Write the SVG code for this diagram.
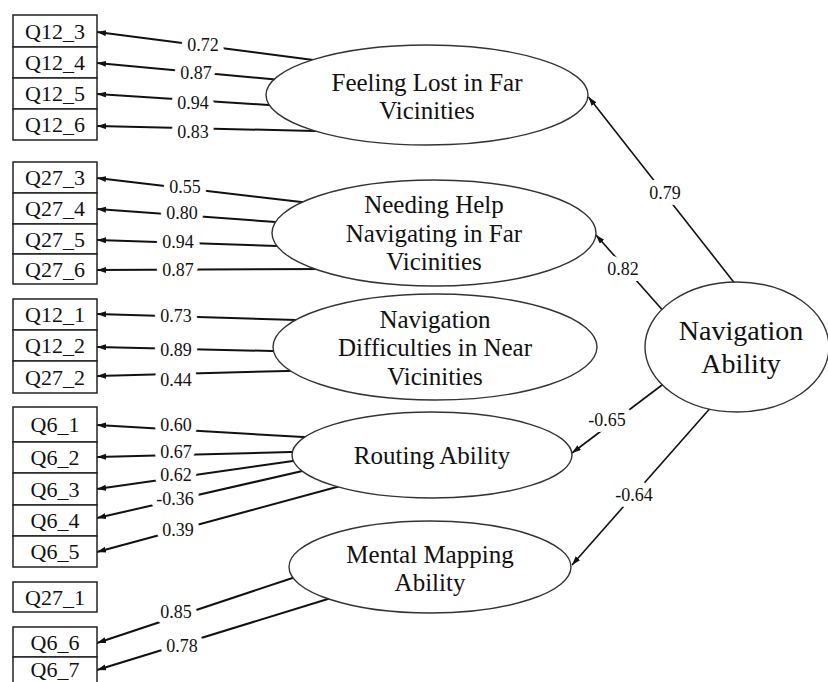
<svg xmlns="http://www.w3.org/2000/svg" width="828" height="682" viewBox="0 0 828 682">
<defs>
<marker id="ah" markerUnits="userSpaceOnUse" markerWidth="10" markerHeight="8" refX="9" refY="3" orient="auto">
<path d="M0,0 L9,3 L0,6 z" fill="#111"/>
</marker>
<style>
.box{fill:#fff;stroke:#222;stroke-width:1.5}
.bt{font-family:"Liberation Serif","Times New Roman",serif;font-size:22px;fill:#111;text-anchor:middle}
.ell{fill:#fff;stroke:#333;stroke-width:1.4}
.et{font-family:"Liberation Serif","Times New Roman",serif;font-size:25px;fill:#111;text-anchor:middle}
.nt{font-family:"Liberation Serif","Times New Roman",serif;font-size:28px;fill:#111;text-anchor:middle}
.ind{stroke:#111;stroke-width:2;fill:none;marker-end:url(#ah)}
.str{stroke:#111;stroke-width:1.6;fill:none;marker-end:url(#ah)}
.lbl{font-family:"Liberation Serif","Times New Roman",serif;font-size:18px;fill:#111;text-anchor:middle;stroke:#fff;stroke-width:12;stroke-linejoin:round;paint-order:stroke}
</style>
</defs>
<rect width="828" height="682" fill="#fff"/>

<g id="connectors">
<line class="ind" x1="321" y1="61" x2="97" y2="32"/>
<line class="ind" x1="281" y1="80" x2="97" y2="63"/>
<line class="ind" x1="276" y1="105.5" x2="97" y2="94"/>
<line class="ind" x1="325" y1="131.2" x2="97" y2="126"/>
<line class="ind" x1="310" y1="203" x2="97" y2="178"/>
<line class="ind" x1="283" y1="222.5" x2="97" y2="209"/>
<line class="ind" x1="285" y1="246.3" x2="97" y2="240"/>
<line class="ind" x1="328" y1="269" x2="97" y2="270"/>
<line class="ind" x1="305" y1="320.2" x2="97" y2="314"/>
<line class="ind" x1="281" y1="351.2" x2="97" y2="347"/>
<line class="ind" x1="298" y1="370.7" x2="97" y2="376"/>
<line class="ind" x1="312" y1="437.5" x2="97" y2="425"/>
<line class="ind" x1="300" y1="451.8" x2="97" y2="457"/>
<line class="ind" x1="300" y1="460" x2="97" y2="489"/>
<line class="ind" x1="310" y1="469.3" x2="97" y2="518"/>
<line class="ind" x1="345" y1="484.8" x2="97" y2="552"/>
<line class="ind" x1="300" y1="575.5" x2="97" y2="643"/>
<line class="ind" x1="336" y1="596.5" x2="97" y2="670"/>
<line class="str" x1="736" y1="285" x2="588.5" y2="97"/>
<line class="str" x1="666" y1="314" x2="596" y2="235"/>
<line class="str" x1="666" y1="382" x2="572" y2="453"/>
<line class="str" x1="713" y1="405" x2="572" y2="565"/>
<text class="lbl" x="203" y="51">0.72</text>
<text class="lbl" x="196" y="79">0.87</text>
<text class="lbl" x="193" y="109">0.94</text>
<text class="lbl" x="193" y="138">0.83</text>
<text class="lbl" x="185" y="193">0.55</text>
<text class="lbl" x="182" y="219">0.80</text>
<text class="lbl" x="178" y="248">0.94</text>
<text class="lbl" x="178" y="276">0.87</text>
<text class="lbl" x="176" y="322">0.73</text>
<text class="lbl" x="176" y="356">0.89</text>
<text class="lbl" x="176" y="386">0.44</text>
<text class="lbl" x="176" y="431">0.60</text>
<text class="lbl" x="176" y="458">0.67</text>
<text class="lbl" x="176" y="481">0.62</text>
<text class="lbl" x="175" y="505">-0.36</text>
<text class="lbl" x="178" y="536">0.39</text>
<text class="lbl" x="176" y="618">0.85</text>
<text class="lbl" x="182" y="652">0.78</text>
<text class="lbl" x="665" y="199">0.79</text>
<text class="lbl" x="623" y="275">0.82</text>
<text class="lbl" x="607" y="426">-0.65</text>
<text class="lbl" x="634" y="501">-0.64</text>
</g>

<g id="Q12_3"><rect class="box" x="13" y="15" width="84" height="32"/><text class="bt" x="55" y="38.5">Q12_3</text></g>
<g id="Q12_4"><rect class="box" x="13" y="47" width="84" height="31"/><text class="bt" x="55" y="70">Q12_4</text></g>
<g id="Q12_5"><rect class="box" x="13" y="78" width="84" height="31"/><text class="bt" x="55" y="101">Q12_5</text></g>
<g id="Q12_6"><rect class="box" x="13" y="109" width="84" height="31"/><text class="bt" x="55" y="132">Q12_6</text></g>
<g id="Q27_3"><rect class="box" x="13" y="162" width="84" height="31"/><text class="bt" x="55" y="185">Q27_3</text></g>
<g id="Q27_4"><rect class="box" x="13" y="193" width="84" height="31"/><text class="bt" x="55" y="216">Q27_4</text></g>
<g id="Q27_5"><rect class="box" x="13" y="224" width="84" height="30"/><text class="bt" x="55" y="246.5">Q27_5</text></g>
<g id="Q27_6"><rect class="box" x="13" y="254" width="84" height="30"/><text class="bt" x="55" y="276.5">Q27_6</text></g>
<g id="Q12_1"><rect class="box" x="13" y="299" width="84" height="31"/><text class="bt" x="55" y="322">Q12_1</text></g>
<g id="Q12_2"><rect class="box" x="13" y="330" width="84" height="31"/><text class="bt" x="55" y="353">Q12_2</text></g>
<g id="Q27_2"><rect class="box" x="13" y="361" width="84" height="32"/><text class="bt" x="55" y="384.5">Q27_2</text></g>
<g id="Q6_1"><rect class="box" x="13" y="407" width="84" height="35"/><text class="bt" x="55" y="432">Q6_1</text></g>
<g id="Q6_2"><rect class="box" x="13" y="442" width="84" height="31"/><text class="bt" x="55" y="465">Q6_2</text></g>
<g id="Q6_3"><rect class="box" x="13" y="473" width="84" height="32"/><text class="bt" x="55" y="496.5">Q6_3</text></g>
<g id="Q6_4"><rect class="box" x="13" y="505" width="84" height="31"/><text class="bt" x="55" y="528">Q6_4</text></g>
<g id="Q6_5"><rect class="box" x="13" y="536" width="84" height="31"/><text class="bt" x="55" y="559">Q6_5</text></g>
<g id="Q27_1"><rect class="box" x="13" y="582" width="84" height="30"/><text class="bt" x="55" y="604.5">Q27_1</text></g>
<g id="Q6_6"><rect class="box" x="13" y="627" width="84" height="30"/><text class="bt" x="55" y="649.5">Q6_6</text></g>
<g id="Q6_7"><rect class="box" x="13" y="657" width="84" height="33"/><text class="bt" x="55" y="677">Q6_7</text></g>

<g id="feeling_lost"><ellipse class="ell" cx="427" cy="95" rx="161" ry="50"/><text class="et" x="427" y="91">Feeling Lost in Far</text><text class="et" x="427" y="119">Vicinities</text></g>
<g id="needing_help"><ellipse class="ell" cx="434" cy="233" rx="162" ry="53"/><text class="et" x="434" y="213">Needing Help</text><text class="et" x="434" y="241.5">Navigating in Far</text><text class="et" x="434" y="270">Vicinities</text></g>
<g id="nav_difficulties"><ellipse class="ell" cx="435" cy="347" rx="162" ry="53"/><text class="et" x="435" y="327.5">Navigation</text><text class="et" x="435" y="356">Difficulties in Near</text><text class="et" x="435" y="384.5">Vicinities</text></g>
<g id="routing_ability"><ellipse class="ell" cx="432" cy="455" rx="140" ry="43"/><text class="et" x="432" y="464">Routing Ability</text></g>
<g id="mental_mapping"><ellipse class="ell" cx="430" cy="567" rx="141" ry="46"/><text class="et" x="430" y="562.5">Mental Mapping</text><text class="et" x="430" y="590.5">Ability</text></g>
<g id="navigation_ability"><ellipse class="ell" cx="737" cy="347" rx="92" ry="65"/><text class="nt" x="741" y="340">Navigation</text><text class="nt" x="741" y="373">Ability</text></g>
</svg>
